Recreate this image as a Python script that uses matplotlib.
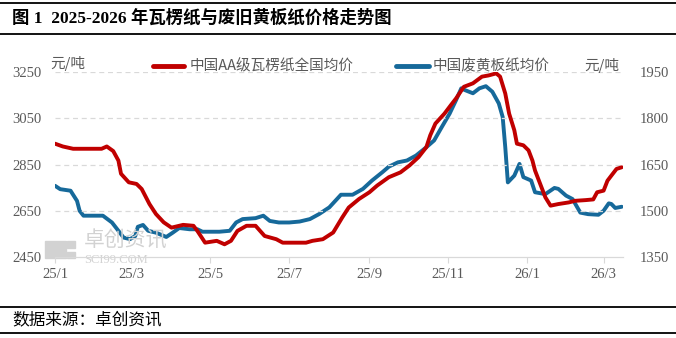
import numpy as np
import pandas as pd
import matplotlib
matplotlib.use("Agg")
import matplotlib.pyplot as plt
import matplotlib.dates as mdates
from matplotlib.patches import Rectangle

plt.rcParams['font.family'] = ['Noto Sans CJK SC', 'DejaVu Sans']

# 中国AA级瓦楞纸全国均价 (左轴, 元/吨)
red_dates = ['2025-01-01', '2025-01-07', '2025-01-15', '2025-02-06', '2025-02-10',
             '2025-02-15', '2025-02-19', '2025-02-21', '2025-02-27', '2025-03-05',
             '2025-03-09', '2025-03-15', '2025-03-20', '2025-03-26', '2025-04-01',
             '2025-04-10', '2025-04-18', '2025-04-21', '2025-04-27', '2025-05-06',
             '2025-05-12', '2025-05-17', '2025-05-22', '2025-05-29', '2025-06-05',
             '2025-06-12', '2025-06-21', '2025-06-26', '2025-07-14', '2025-07-19',
             '2025-07-27', '2025-08-04', '2025-08-11', '2025-08-16', '2025-08-24',
             '2025-09-01', '2025-09-07', '2025-09-16', '2025-09-25', '2025-10-02',
             '2025-10-09', '2025-10-15', '2025-10-18', '2025-10-22', '2025-10-29',
             '2025-11-03', '2025-11-07', '2025-11-13', '2025-11-20', '2025-11-27',
             '2025-12-02', '2025-12-08', '2025-12-11', '2025-12-15', '2025-12-18',
             '2025-12-22', '2025-12-24', '2025-12-29', '2026-01-02', '2026-01-05',
             '2026-01-07', '2026-01-11', '2026-01-15', '2026-01-19', '2026-01-25',
             '2026-02-02', '2026-02-07', '2026-02-15', '2026-02-21', '2026-02-24',
             '2026-03-01', '2026-03-04', '2026-03-07', '2026-03-11', '2026-03-15']
red_vals = [2940, 2928, 2918, 2918, 2928, 2908, 2867, 2810, 2773, 2766,
            2744, 2679, 2636, 2600, 2577, 2589, 2585, 2563, 2512, 2520,
            2505, 2520, 2563, 2585, 2585, 2541, 2527, 2512, 2512, 2520,
            2527, 2556, 2621, 2664, 2701, 2730, 2759, 2795, 2816, 2846,
            2882, 2925, 2976, 3027, 3070, 3107, 3136, 3186, 3201, 3230,
            3235, 3244, 3230, 3157, 3070, 2998, 2940, 2933, 2911, 2867,
            2824, 2766, 2708, 2672, 2679, 2686, 2693, 2696, 2699, 2730,
            2737, 2780, 2802, 2831, 2838]

# 中国废黄板纸均价 (右轴, 元/吨)
blue_dates = ['2025-01-01', '2025-01-05', '2025-01-13', '2025-01-18', '2025-01-20',
              '2025-01-23', '2025-02-07', '2025-02-14', '2025-02-19', '2025-02-23',
              '2025-02-28', '2025-03-04', '2025-03-06', '2025-03-10', '2025-03-14',
              '2025-03-20', '2025-03-28', '2025-04-02', '2025-04-07', '2025-04-15',
              '2025-04-21', '2025-04-25', '2025-05-08', '2025-05-16', '2025-05-21',
              '2025-05-26', '2025-06-05', '2025-06-11', '2025-06-16', '2025-06-23',
              '2025-07-01', '2025-07-09', '2025-07-17', '2025-07-24', '2025-08-01',
              '2025-08-10', '2025-08-19', '2025-08-27', '2025-09-03', '2025-09-11',
              '2025-09-16', '2025-09-23', '2025-09-30', '2025-10-07', '2025-10-15',
              '2025-10-21', '2025-10-27', '2025-11-02', '2025-11-07', '2025-11-11',
              '2025-11-14', '2025-11-20', '2025-11-25', '2025-11-30', '2025-12-05',
              '2025-12-10', '2025-12-13', '2025-12-15', '2025-12-17', '2025-12-22',
              '2025-12-26', '2025-12-29', '2026-01-04', '2026-01-07', '2026-01-15',
              '2026-01-22', '2026-01-25', '2026-01-31', '2026-02-05', '2026-02-11',
              '2026-02-17', '2026-02-25', '2026-03-01', '2026-03-05', '2026-03-07',
              '2026-03-10', '2026-03-15']
blue_vals = [1581, 1570, 1565, 1532, 1500, 1484, 1484, 1462, 1435, 1413,
             1408, 1418, 1448, 1454, 1435, 1429, 1415, 1429, 1444, 1440,
             1440, 1432, 1432, 1435, 1462, 1473, 1476, 1484, 1467, 1462,
             1462, 1465, 1473, 1489, 1511, 1552, 1552, 1571, 1598, 1625,
             1643, 1657, 1663, 1679, 1706, 1728, 1772, 1815, 1859, 1897,
             1891, 1881, 1897, 1904, 1886, 1848, 1804, 1706, 1592, 1614,
             1652, 1609, 1598, 1560, 1554, 1574, 1571, 1549, 1538, 1494,
             1489, 1487, 1500, 1524, 1522, 1509, 1513]

left_ticks = [2450, 2650, 2850, 3050, 3250]
right_ticks = [1350, 1500, 1650, 1800, 1950]
month_ticks = ['2025-01-01', '2025-03-01', '2025-05-01', '2025-07-01',
               '2025-09-01', '2025-11-01', '2026-01-01', '2026-03-01']

red_c = '#c00000'
blue_c = '#16699a'
txt_c = '#595959'
num_font = ['Liberation Serif', 'Noto Sans CJK SC']

fig = plt.figure(figsize=(6.76, 3.38), dpi=100)
ax = fig.add_axes([0.0814, 0.2396, 0.8402, 0.5474])
ax2 = ax.twinx()

rd = pd.to_datetime(red_dates)
bd = pd.to_datetime(blue_dates)
ax.plot(rd, red_vals, color=red_c, lw=2.8, solid_capstyle='round', zorder=3)
ax2.plot(bd, blue_vals, color=blue_c, lw=2.8, solid_capstyle='round', zorder=3)
ax.set_zorder(ax2.get_zorder() + 1)
ax.patch.set_visible(False)

ax.set_ylim(2450, 3250)
ax2.set_ylim(1350, 1950)
ax.set_xlim(pd.Timestamp('2025-01-01'), pd.Timestamp('2026-03-16'))

ax.set_yticks(left_ticks)
ax2.set_yticks(right_ticks)
ax.set_yticklabels([str(v) for v in left_ticks], family=num_font, fontsize=10.5, color=txt_c)
ax2.set_yticklabels([str(v) for v in right_ticks], family=num_font, fontsize=10.5, color=txt_c)
ax.tick_params(axis='y', length=0, pad=10)
ax2.tick_params(axis='y', length=0, pad=12)

mt = pd.to_datetime(month_ticks)
ax.set_xticks(mt)
ax.set_xticklabels([f"{d.year % 100}/{d.month}" for d in mt], family=num_font,
                   fontsize=10.5, color=txt_c)
ax.tick_params(axis='x', length=4, color='#d9d9d9', pad=4)

for v in left_ticks[1:]:
    ax.axhline(v, color='#d9d9d9', lw=0.9, ls=(0, (4, 3)), zorder=1)

for a in (ax, ax2):
    for s in ('top', 'right', 'left'):
        a.spines[s].set_visible(False)
    a.spines['bottom'].set_color('#d9d9d9')

# 单位
fig.text(0.074, 0.813, '元/吨', fontsize=10.5, color=txt_c, va='center')
fig.text(0.865, 0.807, '元/吨', fontsize=10.5, color=txt_c, va='center')

# 图例
fig.add_artist(plt.Line2D([0.226, 0.272], [0.805, 0.805], color=red_c, lw=3.5,
                          solid_capstyle='round'))
fig.text(0.280, 0.805, '中国AA级瓦楞纸全国均价', fontsize=10.5, color=txt_c, va='center')
fig.add_artist(plt.Line2D([0.586, 0.634], [0.805, 0.805], color=blue_c, lw=3.5,
                          solid_capstyle='round'))
fig.text(0.640, 0.805, '中国废黄板纸均价', fontsize=10.5, color=txt_c, va='center')

# 水印
wm = '#d2d2d2'
fig.add_artist(Rectangle((0.067, 0.237), 0.030, 0.050, color=wm, zorder=0))
fig.add_artist(Rectangle((0.099, 0.265), 0.012, 0.022, color=wm, zorder=0))
fig.add_artist(Rectangle((0.099, 0.237), 0.012, 0.018, color=wm, zorder=0))
fig.text(0.124, 0.270, '卓创资讯', fontsize=15, color=wm, va='baseline', zorder=0)
fig.text(0.124, 0.222, 'SCI99.COM', fontsize=9, color=wm, va='baseline',
         family='Liberation Serif', zorder=0)

# 标题和边框线
fig.text(0.018, 0.947, '图 1  2025-2026 年瓦楞纸与废旧黄板纸价格走势图', fontsize=12.5,
         fontweight='bold', family=num_font, color='black', va='center')
for y in (0.991, 0.899, 0.092, 0.014):
    fig.add_artist(plt.Line2D([0.0, 1.0], [y, y], color='black', lw=1.3))
fig.text(0.018, 0.053, '数据来源：卓创资讯', fontsize=12, color='black', va='center')

fig.savefig('out.png', dpi=100)
